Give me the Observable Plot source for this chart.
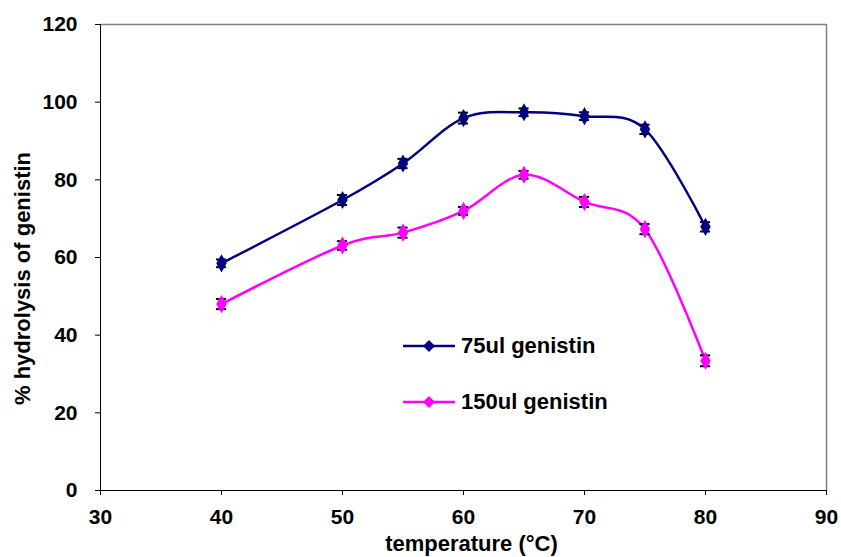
<!DOCTYPE html>
<html>
<head>
<meta charset="utf-8">
<script src="https://cdn.jsdelivr.net/npm/d3@7"></script>
<script src="https://cdn.jsdelivr.net/npm/@observablehq/plot@0.6"></script>
<style>
  html, body { margin: 0; padding: 0; background: #fff; }
  #wrap { position: relative; width: 841px; height: 557px; font-family: "Liberation Sans", Arial, sans-serif; }
  #legend { position: absolute; left: 403px; top: 330px; font-weight: bold; font-size: 22px; color: #000; }
  .item { display: flex; align-items: center; height: 32px; margin-bottom: 24px; }
  .item svg { margin-right: 4px; }
</style>
</head>
<body>
<div id="wrap">
  <div id="chart"></div>
  <div id="legend"></div>
</div>
<script>
const temperatures = [40, 50, 55, 60, 65, 70, 75, 80];
const series75 = [58.5, 74.8, 84.2, 95.9, 97.4, 96.4, 93.0, 67.9];
const err75 = [1.0, 1.3, 1.2, 1.4, 1.0, 1.0, 1.2, 1.2];
const series150 = [48.0, 63.1, 66.4, 72.0, 81.3, 74.3, 67.3, 33.4];
const err150 = [1.3, 1.1, 1.3, 1.0, 1.0, 1.3, 1.3, 1.4];
const seriesNames = ["75ul genistin", "150ul genistin"];
const seriesColors = ["#000080", "#FF00FF"];
const xTicks = [30, 40, 50, 60, 70, 80, 90];
const yTicks = [0, 20, 40, 60, 80, 100, 120];
const xLabel = "temperature (°C)";
const yLabel = "% hydrolysis of genistin";

const rows = [];
[series75, series150].forEach((vals, si) => {
  const errs = si === 0 ? err75 : err150;
  temperatures.forEach((t, i) => rows.push({series: seriesNames[si], t, v: vals[i], e: errs[i]}));
});

const font = "'Liberation Sans', Arial, sans-serif";
const chart = Plot.plot({
  width: 841,
  height: 557,
  marginLeft: 100,
  marginRight: 15,
  marginTop: 24,
  marginBottom: 67,
  style: {fontFamily: font, fontSize: "21px", fontWeight: "bold", color: "#000", background: "#fff"},
  x: {domain: [30, 90]},
  y: {domain: [0, 120]},
  color: {domain: seriesNames, range: seriesColors},
  marks: [
    Plot.ruleY([120], {stroke: "#808080", strokeWidth: 1.5}),
    Plot.ruleX([90], {stroke: "#808080", strokeWidth: 1.5}),
    Plot.axisX({ticks: xTicks, tickSize: 5, tickPadding: 14, label: null, fontSize: 21, fontWeight: "bold"}),
    Plot.axisY({ticks: yTicks, tickSize: 5, tickPadding: 18, label: null, fontSize: 21, fontWeight: "bold"}),
    Plot.text([xLabel], {text: d => d, frameAnchor: "bottom", textAnchor: "middle", dx: 8, dy: 60, fontSize: 22, fontWeight: "bold", fill: "#000"}),
    Plot.text([yLabel], {text: d => d, frameAnchor: "left", textAnchor: "middle", rotate: -90, dx: -78, dy: 21, fontSize: 22, fontWeight: "bold", fill: "#000"}),
    Plot.ruleX([30], {stroke: "#000", strokeWidth: 1}),
    Plot.ruleY([0], {stroke: "#000", strokeWidth: 1}),
    Plot.line(rows, {x: "t", y: "v", z: "series", stroke: "series", strokeWidth: 2.5, curve: "cardinal", tension: 0}),
    Plot.ruleX(rows, {x: "t", y1: d => d.v - d.e, y2: d => d.v + d.e, stroke: "#000", strokeWidth: 1.5}),
    Plot.ruleY(rows, {y: d => d.v - d.e, x1: d => d.t - 0.42, x2: d => d.t + 0.42, stroke: "#000", strokeWidth: 2}),
    Plot.ruleY(rows, {y: d => d.v + d.e, x1: d => d.t - 0.42, x2: d => d.t + 0.42, stroke: "#000", strokeWidth: 2}),
    Plot.dot(rows, {x: "t", y: "v", fill: "series", symbol: "diamond", r: 5.5, stroke: "none"})
  ]
});
document.getElementById("chart").appendChild(chart);

const legend = document.getElementById("legend");
seriesNames.forEach((name, i) => {
  const item = document.createElement("div");
  item.className = "item";
  item.innerHTML = `<svg width="54" height="14"><line x1="0" y1="7" x2="52" y2="7" stroke="${seriesColors[i]}" stroke-width="2.5"/><path d="M26,1 L32,7 L26,13 L20,7 Z" fill="${seriesColors[i]}"/></svg><span>${name}</span>`;
  legend.appendChild(item);
});
</script>
</body>
</html>
